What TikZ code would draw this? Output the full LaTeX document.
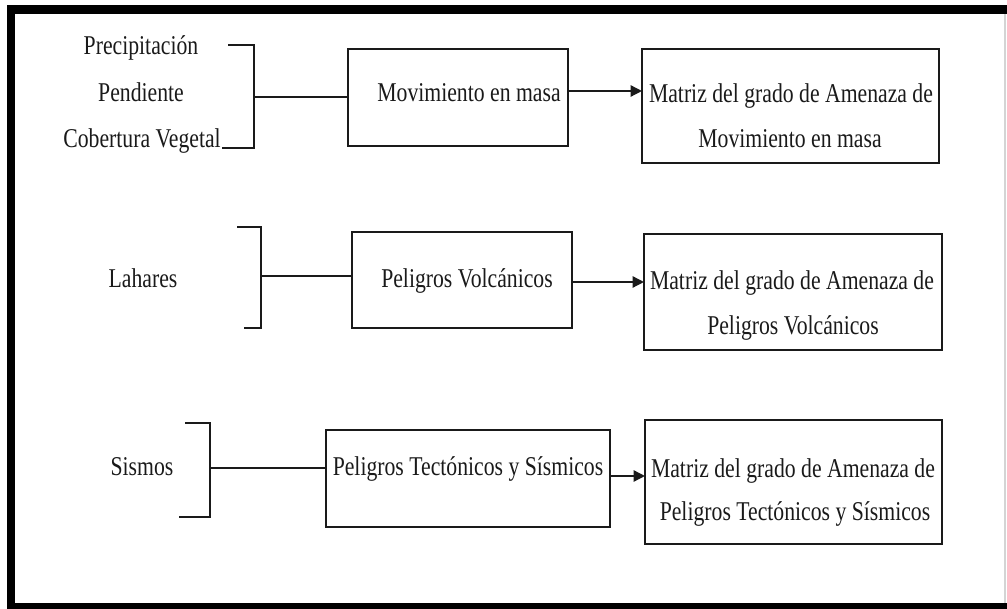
\documentclass[tikz,border=0pt]{standalone}
\usepackage{fontspec}
\setmainfont{Liberation Serif}[FakeStretch=0.80]
\usepackage{xcolor}
\usepackage{tikz}
\usetikzlibrary{calc,arrows.meta}
\definecolor{ink}{HTML}{1A1A1A}
\definecolor{edge}{HTML}{D4D4D4}
\tikzset{
  box/.style={draw=ink, line width=1pt, inner sep=0pt, outer sep=0pt},
  brk/.style={draw=ink, line width=1pt},
  link/.style={draw=ink, line width=1pt},
  arr/.style={draw=ink, line width=1pt, -{Triangle[length=8pt,width=8pt]}},
  frame/.style={fill=black},
  lab/.style={anchor=base, font=\fontsize{19.3}{23}\selectfont, inner sep=0pt},
  every node/.style={text=ink}
}
\begin{document}
\begin{tikzpicture}[x=0.025cm, y=-0.025cm]
  \useasboundingbox (0,0) rectangle (1007,609);
  \fill[frame] (7,5) rectangle (1007,14);
  \fill[frame] (7,5) rectangle (15,609);
  \fill[frame] (7,603) rectangle (1007,609);
  \draw[edge, line width=1pt] (1005,14) -- (1005,603);

  \node[box, minimum width=5.5cm, minimum height=2.425cm] (mov) at (458,97.5) {};
  \node[box, minimum width=7.425cm, minimum height=2.85cm] (mat1) at (790.5,106) {};
  \node[box, minimum width=5.5cm, minimum height=2.4cm] (volc) at (462,280) {};
  \node[box, minimum width=7.45cm, minimum height=2.9cm] (mat2) at (793,292) {};
  \node[box, minimum width=7.1cm, minimum height=2.425cm] (tect) at (468,478.5) {};
  \node[box, minimum width=7.425cm, minimum height=3.1cm] (mat3) at (793.5,482) {};

  \node[lab] (prec) at (141,55) {Precipitación};
  \node[lab] (pend) at (141,101.7) {Pendiente};
  \node[lab] (cobe) at (142,148) {Cobertura Vegetal};
  \node[lab] (lah) at (143,288) {Lahares};
  \node[lab] (sis) at (142,476) {Sismos};

  \node[lab] (tmov) at (469,101.7) {Movimiento en masa};
  \node[lab] (tmat1a) at (791,103) {Matriz del grado de Amenaza de};
  \node[lab] (tmat1b) at (790,148) {Movimiento en masa};
  \node[lab] (tvolc) at (467,288) {Peligros Volcánicos};
  \node[lab] (tmat2a) at (792,290) {Matriz del grado de Amenaza de};
  \node[lab] (tmat2b) at (793,335) {Peligros Volcánicos};
  \node[lab] (ttect) at (468,476) {Peligros Tectónicos y Sísmicos};
  \node[lab] (tmat3a) at (793,478) {Matriz del grado de Amenaza de};
  \node[lab] (tmat3b) at (795,520) {Peligros Tectónicos y Sísmicos};

  \coordinate (b1) at (254,97);
  \coordinate (b2) at (261,276);
  \coordinate (b3) at (210,468);
  \draw[brk] (228,45) -| (254,148) -- (222,148);
  \draw[brk] (237,227) -| (261,328) -- (244,328);
  \draw[brk] (185,423) -| (210,517) -- (179,517);
  \draw[link] (b1) -- (b1 -| mov.west);
  \draw[link] (b2) -- (b2 -| volc.west);
  \draw[link] (b3) -- (b3 -| tect.west);

  \coordinate (a1) at (0,91);
  \coordinate (a2) at (0,282);
  \coordinate (a3) at (0,476);
  \draw[arr] (mov.east |- a1) -- (mat1.west |- a1);
  \draw[arr] (volc.east |- a2) -- (mat2.west |- a2);
  \draw[arr] (tect.east |- a3) -- (mat3.west |- a3);
\end{tikzpicture}
\end{document}
